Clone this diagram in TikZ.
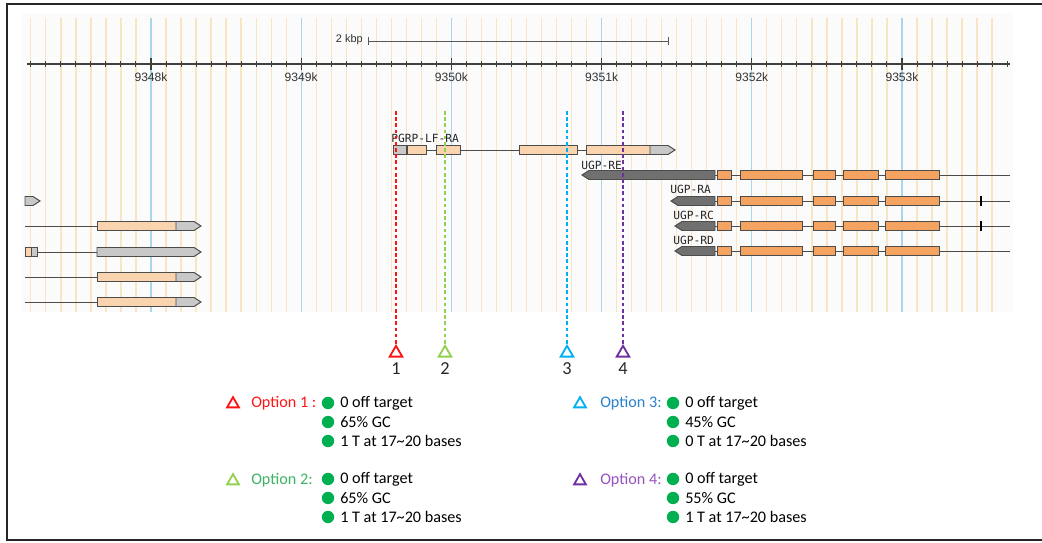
\documentclass[tikz,border=0pt]{standalone}
\usepackage{fontspec}
\setmainfont{Carlito}
\newfontfamily\rulerfont{Liberation Sans}
\newfontfamily\genefont{DejaVu Sans Mono}
\usetikzlibrary{shapes.geometric}
\definecolor{panelbg}{RGB}{251,251,251}
\definecolor{gridbeige}{RGB}{250,228,196}
\definecolor{gridblue}{RGB}{170,214,236}
\definecolor{exonlt}{RGB}{250,212,174}
\definecolor{exonug}{RGB}{244,164,96}
\definecolor{utrgray}{RGB}{200,200,200}
\definecolor{utrdark}{RGB}{112,112,112}
\definecolor{optred}{RGB}{255,20,20}
\definecolor{optgreen}{RGB}{146,208,80}
\definecolor{optgreentxt}{RGB}{60,178,100}
\definecolor{optblue}{RGB}{0,176,240}
\definecolor{optbluetxt}{RGB}{40,128,208}
\definecolor{optpurple}{RGB}{112,48,160}
\definecolor{optpurpletxt}{RGB}{150,82,190}
\definecolor{okgreen}{RGB}{0,176,80}
\tikzset{
  gridminor/.style={gridbeige, line width=0.9pt},
  gridmajor/.style={gridblue, line width=0.9pt},
  intron/.style={black!70, line width=0.7pt},
  exonbox/.style={draw=black!70, line width=0.7pt, fill=exonlt},
  ugpbox/.style={draw=black!70, line width=0.7pt, fill=exonug},
  utrbox/.style={draw=black!70, line width=0.7pt, fill=utrgray},
  darkbox/.style={draw=black!70, line width=0.7pt, fill=utrdark},
  genelabel/.style={font=\genefont\fontsize{8}{9}\selectfont, text=black!85, inner sep=0pt, anchor=west},
  cutsite/.style={regular polygon, regular polygon sides=3, draw, line width=1.3pt, minimum size=0.36cm, inner sep=0pt},
  cutline/.style={dash pattern=on 2.6pt off 1.8pt, line width=0.9pt},
  okdot/.style={circle, fill=okgreen, minimum size=0.31cm, inner sep=0pt},
  opttext/.style={font=\fontsize{11.5}{13}\selectfont, inner sep=0pt, anchor=west}
}
\begin{document}
\begin{tikzpicture}[x=0.025cm, y=-0.025cm]
  \useasboundingbox (0,0) rectangle (1042,543);
  % outer frame, open on the right
  \draw[line width=1.6pt, black!85] (1042,4) -- (7,4) -- (7,540) -- (1042,540);
  % browser panel with grid
  \fill[panelbg] (22,13) rectangle (1013,312);
  \foreach \k in {-8,...,56} {
    \draw[gridminor] ({151+15.02*\k},18) -- ({151+15.02*\k},312);
  }
  \foreach \k in {0,...,5} {
    \draw[gridmajor] ({151+150.2*\k},18) -- ({151+150.2*\k},312);
  }
  % scale bar
  \node[font=\rulerfont\fontsize{7.8}{9}\selectfont, text=black!80, inner sep=0pt, anchor=east] (kbp) at (363,40) {2 kbp};
  \draw[black!65, line width=0.7pt] (368,41) -- (668,41);
  \draw[black!65, line width=0.7pt] (368,37) -- (368,45) (668,37) -- (668,45);
  % ruler
  \draw[black!75, line width=0.9pt] (27,64) -- (1010,64);
  \foreach \k in {-8,...,57} {
    \draw[black!75, line width=0.7pt] ({151+15.02*\k},61) -- ({151+15.02*\k},67);
  }
  \foreach \k/\lab in {0/9348k,1/9349k,2/9350k,3/9351k,4/9352k,5/9353k} {
    \draw[black!75, line width=0.8pt] ({151+150.2*\k},58) -- ({151+150.2*\k},70);
    \node[font=\rulerfont\fontsize{8.6}{10}\selectfont, text=black!80, inner sep=0pt] (r\k) at ({151+150.2*\k},77) {\lab};
  }
  % genes on the left edge
  \draw[utrbox] (25,196.5) -- (33,196.5) -- (40,201) -- (33,205.5) -- (25,205.5) -- cycle;
  \foreach \y in {226,277,302} {
    \draw[intron] (25,\y) -- (97,\y);
    \draw[exonbox] (97,{\y-4.5}) rectangle (176,{\y+4.5});
    \draw[utrbox] (176,{\y-4.5}) -- (194,{\y-4.5}) -- (201,\y) -- (194,{\y+4.5}) -- (176,{\y+4.5}) -- cycle;
  }
  \draw[intron] (37,252) -- (97,252);
  \draw[exonbox] (25,247.5) rectangle (31,256.5);
  \draw[utrbox] (31,247.5) rectangle (37,256.5);
  \draw[utrbox] (97,247.5) -- (194,247.5) -- (201,252) -- (194,256.5) -- (97,256.5) -- cycle;
  % PGRP-LF-RA
  \node[genelabel] (pgrp) at (391,138) {PGRP-LF-RA};
  \draw[intron] (393,150) -- (650,150);
  \draw[utrbox] (393,145.5) rectangle (406,154.5);
  \foreach \a/\b in {407/426,436/460,519/577,586/650} {
    \draw[exonbox] (\a,145.5) rectangle (\b,154.5);
  }
  \draw[utrbox] (650,145.5) -- (668,145.5) -- (675,150) -- (668,154.5) -- (650,154.5) -- cycle;
  % UGP transcripts
  \node[genelabel] (ugpre) at (581,165) {UGP-RE};
  \node[genelabel] (ugpra) at (670,189) {UGP-RA};
  \node[genelabel] (ugprc) at (673,215) {UGP-RC};
  \node[genelabel] (ugprd) at (673,240) {UGP-RD};
  \foreach \y/\p in {175/582,201/671,226/675,251/675} {
    \draw[intron] (715,\y) -- (1010,\y);
    \draw[darkbox] (\p,\y) -- ({\p+7},{\y-4.5}) -- (715,{\y-4.5}) -- (715,{\y+4.5}) -- ({\p+7},{\y+4.5}) -- cycle;
    \foreach \a/\b in {717/731,740/802,813/835,843/878,885/939} {
      \draw[ugpbox] (\a,{\y-4.5}) rectangle (\b,{\y+4.5});
    }
  }
  \draw[black, line width=1.4pt] (981,196) -- (981,206) (981,221) -- (981,231);
  % cut sites
  \foreach \i/\x/\c in {1/396/optred,2/445/optgreen,3/567/optblue,4/623/optpurple} {
    \coordinate (top\i) at (\x,111);
    \node[cutsite, draw=\c] (cut\i) at (\x,353) {};
    \draw[cutline, \c] (top\i) -- (cut\i.north);
    \node[font=\fontsize{13}{15}\selectfont, text=black!85, inner sep=0pt] (num\i) at (\x,369) {\i};
  }
  % legend
  \node[cutsite, draw=optred, minimum size=0.34cm] (key1) at (233,404) {};
  \node[opttext, text=optred] (opt1) at (251,403) {Option 1 :};
  \node[cutsite, draw=optgreen, minimum size=0.34cm] (key2) at (233,481) {};
  \node[opttext, text=optgreentxt] (opt2) at (251,480) {Option 2:};
  \node[cutsite, draw=optblue, minimum size=0.34cm] (key3) at (580,404) {};
  \node[opttext, text=optbluetxt] (opt3) at (600,403) {Option 3:};
  \node[cutsite, draw=optpurple, minimum size=0.34cm] (key4) at (580,481) {};
  \node[opttext, text=optpurpletxt] (opt4) at (600,480) {Option 4:};
  \foreach \n/\x/\y/\t in {1/328/403/0 off target, 2/328/422/65\% GC, 3/328/441/1 T at 17\textasciitilde20 bases,
                           4/328/479/0 off target, 5/328/498/65\% GC, 6/328/517/1 T at 17\textasciitilde20 bases,
                           7/673/403/0 off target, 8/673/422/45\% GC, 9/673/441/0 T at 17\textasciitilde20 bases,
                           10/673/479/0 off target, 11/673/498/55\% GC, 12/673/517/1 T at 17\textasciitilde20 bases} {
    \node[okdot] (dot\n) at (\x,\y) {};
    \node[opttext] (crit\n) at ({\x+12},\y) {\t};
  }
\end{tikzpicture}
\end{document}
